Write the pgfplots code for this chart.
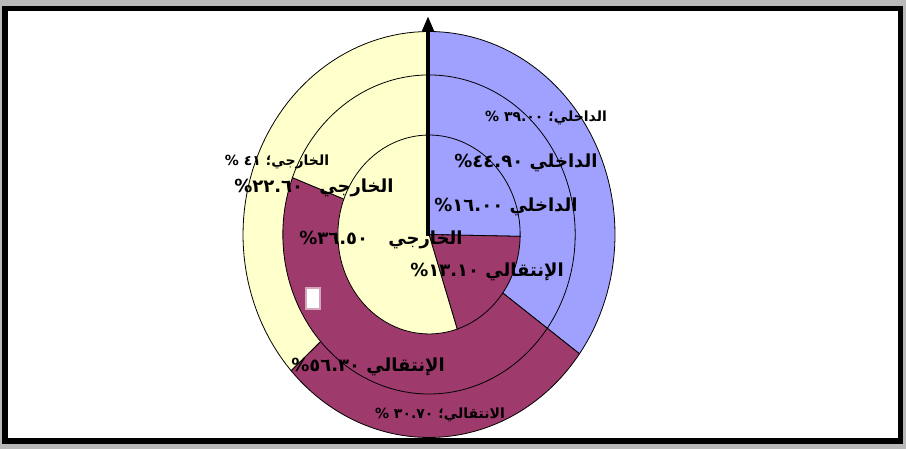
\documentclass[border=0pt]{standalone}
\usepackage{pgfplots}
\pgfplotsset{compat=1.18}
\usepackage{fontspec}
\setmainfont{DejaVu Sans}
\newfontfamily\arabicfont[Script=Arabic]{DejaVu Sans}
\usetikzlibrary{arrows.meta}
\TeXXeTstate=1
\definecolor{cBlue}{HTML}{A0A0FF}
\definecolor{cMaroon}{HTML}{9E3A6C}
\definecolor{cYellow}{HTML}{FFFFCC}

% one label: x px, y px (from top), font, text
\newcommand\lab[4]{\node[font=#3, inner sep=0pt] at (#1pt,{449pt-#2pt}) {\arabicfont\beginR #4\endR};}
\newcommand\smalllab{\bfseries\fontsize{14}{16}\selectfont}
\newcommand\biglab{\bfseries\fontsize{18}{21}\selectfont}

\begin{document}
\begin{tikzpicture}
% frame
\fill[gray!55] (0,0) rectangle (906pt,449pt);
\fill[black] (2pt,5pt) rectangle (903pt,443pt);
\fill[white] (8pt,11pt) rectangle (898pt,438pt);
\begin{axis}[
    scale only axis,
    width=906pt, height=449pt,
    xmin=-2.3065, xmax=2.5645,
    ymin=-1.0567, ymax=1.1552,
    hide axis,
    clip=false,
    samples=60,
    every axis plot/.append style={draw=black, line width=0.8pt},
]
% outer ring (radius 1): shares in percent 35.0 / 28.3 / 36.7
\addplot[fill=cBlue,   domain=0:35]     ({cos(90-3.6*x)},{sin(90-3.6*x)}) -- (axis cs:0,0) -- cycle;
\addplot[fill=cMaroon, domain=35:63.3]  ({cos(90-3.6*x)},{sin(90-3.6*x)}) -- (axis cs:0,0) -- cycle;
\addplot[fill=cYellow, domain=63.3:100] ({cos(90-3.6*x)},{sin(90-3.6*x)}) -- (axis cs:0,0) -- cycle;
% middle ring (radius 0.786): 35.0 / 45.8 / 19.2
\addplot[fill=cBlue,   domain=0:35]     ({0.786*cos(90-3.6*x)},{0.786*sin(90-3.6*x)}) -- (axis cs:0,0) -- cycle;
\addplot[fill=cMaroon, domain=35:80.8]  ({0.786*cos(90-3.6*x)},{0.786*sin(90-3.6*x)}) -- (axis cs:0,0) -- cycle;
\addplot[fill=cYellow, domain=80.8:100] ({0.786*cos(90-3.6*x)},{0.786*sin(90-3.6*x)}) -- (axis cs:0,0) -- cycle;
% inner pie (radius 0.49): 25.3 / 19.7 / 55.0
\addplot[fill=cBlue,   domain=0:25.3]   ({0.49*cos(90-3.6*x)},{0.49*sin(90-3.6*x)}) -- (axis cs:0,0) -- cycle;
\addplot[fill=cMaroon, domain=25.3:45]  ({0.49*cos(90-3.6*x)},{0.49*sin(90-3.6*x)}) -- (axis cs:0,0) -- cycle;
\addplot[fill=cYellow, domain=45:100]   ({0.49*cos(90-3.6*x)},{0.49*sin(90-3.6*x)}) -- (axis cs:0,0) -- cycle;
\end{axis}
% pointer
\draw[line width=4.5pt, -{Triangle[length=15pt, width=11pt]}] (428pt,{449pt-236pt}) -- (428pt,{449pt-16pt});
% small marker
\draw[white!55!cMaroon, line width=1.5pt, fill=white] (306pt,{449pt-288pt}) rectangle (320pt,{449pt-309pt});
% labels
\lab{546}{118}{\smalllab}{الداخلي؛ \beginL٣٩.٠٠\endL{} \%}
\lab{526}{163}{\biglab}{الداخلي \beginL٤٤.٩٠\endL\%}
\lab{506}{207}{\biglab}{الداخلي \beginL١٦.٠٠\endL\%}
\lab{487}{272}{\biglab}{الإنتقالي \beginL١٣.١٠\endL\%}
\lab{381}{240}{\biglab}{الخارجي\hspace{14pt} \beginL٣٦.٥٠\endL\%}
\lab{314}{188}{\biglab}{الخارجي\hspace{10pt} \beginL٢٢.٦٠\endL\%}
\lab{277}{162}{\smalllab}{الخارجي؛ \beginL٤١\endL{} \%}
\lab{368}{367}{\biglab}{الإنتقالي \beginL٥٦.٣٠\endL\%}
\lab{440}{415}{\smalllab}{الانتقالي؛ \beginL٣٠.٧٠\endL{} \%}
\end{tikzpicture}
\end{document}
